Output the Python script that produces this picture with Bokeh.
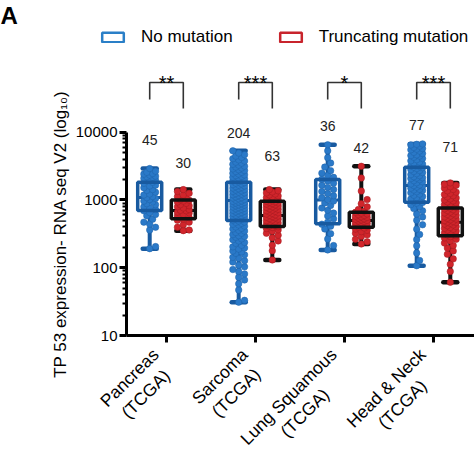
import math
import numpy as np
from bokeh.plotting import figure
from bokeh.models import (Range1d, FixedTicker, PrintfTickFormatter, LogAxis, LinearAxis,
                          Label, Legend, LegendItem)
from bokeh.embed import file_html
from bokeh.resources import INLINE

# ---------------- data ----------------
cancer_line1 = ["Pancreas", "Sarcoma", "Lung Squamous", "Head & Neck"]
cancer_line2 = ["(TCGA)", "(TCGA)", "(TCGA)", "(TCGA)"]
significance = ["**", "***", "*", "***"]
legend_labels = ["No mutation", "Truncating mutation"]
y_ticks = [10, 100, 1000, 10000]

no_mut_n = [45, 204, 36, 77]
trunc_n = [30, 63, 42, 71]

no_mut_min = [191, 31, 183, 107]
no_mut_q1 = [695, 495, 443, 922]
no_mut_med = [1081, 977, 1000, 1626]
no_mut_q3 = [1820, 1820, 1995, 3027]
no_mut_max = [2900, 5300, 6500, 6700]

trunc_min = [352, 130, 224, 61]
trunc_q1 = [525, 404, 394, 297]
trunc_med = [695, 587, 495, 467]
trunc_q3 = [1000, 955, 656, 762]
trunc_max = [1419, 1419, 3130, 1782]

pancreas_no_mut = [191, 205, 360, 395, 440, 470, 520, 585, 610, 650, 690, 720, 760, 790, 850,
                   880, 930, 960, 1010, 1050, 1080, 1120, 1180, 1220, 1300, 1380, 1420, 1510,
                   1600, 1650, 1760, 1820, 1900, 1950, 2010, 2080, 2150, 2200, 2240, 2320, 2400,
                   2450, 2550, 2650, 2900]
pancreas_trunc = [352, 360, 395, 430, 470, 500, 520, 545, 580, 610, 640, 660, 690, 700, 720,
                  760, 790, 820, 850, 890, 930, 960, 990, 1010, 1060, 1120, 1180, 1250, 1330, 1419]
sarcoma_no_mut = [31, 33, 47, 58, 66, 72, 81, 88, 94,
                  103, 109, 121, 127, 138, 142, 155, 163, 171, 176, 188, 196, 203, 214, 229, 236,
                  248, 259, 266, 281, 290, 297,
                  308, 322, 331, 347, 356, 372, 381, 399, 410, 426, 437, 451, 466, 472, 488,
                  503, 517, 529, 546, 551, 569, 583, 594, 611, 628, 633, 652, 667, 681, 699, 704,
                  726, 741, 753, 772, 786, 801, 819, 836, 847, 869, 882, 901, 918, 933, 951, 968,
                  992, 1013, 1041, 1066, 1082, 1109, 1138, 1162, 1191, 1214, 1243, 1272, 1296,
                  1334, 1361, 1398, 1422, 1463, 1497, 1532, 1571, 1608, 1647, 1683, 1722, 1768, 1801,
                  1853, 1902, 1948, 1993, 2051, 2104, 2162, 2218, 2283, 2341, 2409, 2477, 2552,
                  2621, 2704, 2781, 2866, 2953, 3048, 3141, 3246, 3352, 3478, 3602, 3741, 3890,
                  4052, 4231, 4420, 4650, 4902, 5300]
sarcoma_trunc = [130, 178, 215, 248, 276, 301, 322, 344, 361, 378, 392, 401, 410, 421, 433, 447,
                 458, 469, 481, 494, 506, 519, 531, 544, 556, 568, 579, 592, 604, 619, 633, 648,
                 662, 679, 694, 708, 726, 741, 758, 777, 793, 812, 829, 846, 866, 884, 903, 921,
                 942, 958, 975, 998, 1024, 1051, 1082, 1110, 1146, 1183, 1222, 1268, 1310, 1362, 1419]
lung_no_mut = [183, 212, 265, 318, 372, 410, 438, 470, 525, 580, 640, 705, 760, 830, 900, 960,
               1010, 1080, 1150, 1240, 1330, 1420, 1530, 1640, 1760, 1900, 2010, 2150, 2300, 2480,
               2700, 3050, 3500, 4200, 5300, 6500]
lung_trunc = [224, 241, 262, 288, 305, 322, 340, 356, 371, 385, 396, 405, 415, 424, 433, 442,
              452, 461, 470, 480, 489, 498, 507, 518, 528, 540, 552, 563, 575, 590, 606, 621, 638,
              655, 680, 720, 790, 880, 1010, 1350, 2100, 3130]
headneck_no_mut = [107, 128, 165, 210, 260, 310, 370, 430, 500, 560, 620, 690, 745, 800, 850,
                   895, 918, 940, 985, 1030, 1080, 1120, 1170, 1215, 1270, 1320, 1375, 1400, 1430,
                   1490, 1545, 1600, 1625, 1660, 1720, 1790, 1850, 1920, 1990, 2060, 2100, 2130,
                   2200, 2280, 2360, 2440, 2530, 2620, 2710, 2800, 2900, 2990, 3050, 3100, 3150,
                   3260, 3380, 3500, 3630, 3770, 3920, 4080, 4250, 4430, 4500, 4620, 4820, 5030,
                   5250, 5480, 5600, 5720, 5950, 6200, 6450, 6600, 6700]
headneck_trunc = [61, 88, 112, 135, 158, 176, 195, 213, 231, 248, 262, 275, 287, 296, 305, 316,
                  326, 337, 348, 358, 369, 381, 392, 404, 417, 428, 440, 452, 463, 470, 482, 495,
                  508, 521, 535, 549, 563, 578, 594, 610, 626, 643, 661, 679, 698, 718, 739, 758,
                  779, 802, 826, 851, 878, 905, 934, 965, 998, 1033, 1070, 1110, 1152, 1198, 1248,
                  1302, 1360, 1423, 1490, 1562, 1640, 1700, 1782]

no_mut_points = [pancreas_no_mut, sarcoma_no_mut, lung_no_mut, headneck_no_mut]
trunc_points = [pancreas_trunc, sarcoma_trunc, lung_trunc, headneck_trunc]

# ---------------- layout / style ----------------
FONT = "Liberation Sans"
W, H = 474, 449
AXIS_X_PX = 126      # canvas x of the y axis line
AXIS_Y_PX = 335      # canvas y of the x axis line
DEC_PX = 67.8        # pixels per decade
CAT_PX = 89.0        # pixels between categories
CAT1_PX = 166.0      # canvas x of first category
GROUP_OFF_PX = 16.8
BOX_HALF_PX = 12.0
CAP_HALF_PX = 7.0
SWARM_HALF_PX = 8.5
DOT_PX = 6.5
no_mut_label_dy = [29, 18, 19, 19]
trunc_label_dy = [27, 34, 18, 36]

BLUE = "#2a79c8"
BLUE_EDGE = "#1f62a8"
BLUE_BOX = "#185aa0"
RED = "#d0252b"
RED_EDGE = "#a31b21"
RED_BOX = "#111111"

x_start = 1 - CAT1_PX / CAT_PX
x_end = x_start + W / CAT_PX
y_start = 10 ** (1 - (H - AXIS_Y_PX) / DEC_PX)
y_end = 10 ** (1 + AXIS_Y_PX / DEC_PX)


def x_at(canvas_x):
    return x_start + canvas_x / CAT_PX


def y_at(canvas_y):
    return 10 ** (1 + (AXIS_Y_PX - canvas_y) / DEC_PX)


def shift(val, px_up):
    return 10 ** (math.log10(val) + px_up / DEC_PX)


def swarm(vals):
    ys = np.log10(np.asarray(vals, dtype=float)) * DEC_PX
    order = np.argsort(ys)
    cands = [0.0]
    step = DOT_PX * 0.45
    k = 1
    while k * step <= SWARM_HALF_PX + 1e-9:
        cands += [k * step, -k * step]
        k += 1
    px_l, py_l = [], []
    offs = np.zeros(len(vals))
    for i in order:
        y = ys[i]
        best, best_d = 0.0, -1.0
        for c in cands:
            d = min([math.hypot(c - a, y - b) for a, b in zip(px_l, py_l) if abs(b - y) < DOT_PX] or [1e9])
            if d >= DOT_PX * 0.85:
                best = c
                break
            if d > best_d:
                best_d, best = d, c
        offs[i] = best
        px_l.append(best)
        py_l.append(y)
    return offs


p = figure(width=W, height=H, y_axis_type="log",
           x_range=Range1d(x_start, x_end), y_range=Range1d(y_start, y_end),
           x_axis_location=None, y_axis_location=None,
           output_backend="svg", toolbar_location=None,
           min_border_left=0, min_border_right=0, min_border_top=0, min_border_bottom=0)
p.xgrid.visible = False
p.ygrid.visible = False
p.outline_line_color = None
p.background_fill_color = "white"
p.border_fill_color = "white"

# y axis (log), fixed at the left edge of the plotting area
minor = [m * 10 ** e for e in range(1, 4) for m in range(2, 10)]
yax = LogAxis(fixed_location=x_at(AXIS_X_PX), bounds=(10, 10000),
              ticker=FixedTicker(ticks=y_ticks, minor_ticks=minor),
              formatter=PrintfTickFormatter(format="%d"))
yax.axis_line_width = 3
yax.axis_line_color = "black"
yax.major_tick_line_width = 3
yax.major_tick_out = 7
yax.major_tick_in = 0
yax.minor_tick_line_width = 2
yax.minor_tick_out = 4
yax.minor_tick_in = 0
yax.major_label_text_font = FONT
yax.major_label_text_font_size = "15px"
yax.major_label_text_color = "black"
yax.major_label_standoff = 2
yax.axis_label = "TP 53 expression- RNA seq V2 (log\u2081\u2080)"
yax.axis_label_text_font = FONT
yax.axis_label_text_font_size = "17px"
yax.axis_label_text_font_style = "normal"
yax.axis_label_text_color = "black"
yax.axis_label_standoff = 3
p.add_layout(yax, "left")

# x axis
xax = LinearAxis(fixed_location=10, bounds=(x_at(AXIS_X_PX), x_end),
                 ticker=FixedTicker(ticks=[1, 2, 3, 4], minor_ticks=[]))
xax.major_label_overrides = {1: "", 2: "", 3: "", 4: ""}
xax.axis_line_width = 3
xax.axis_line_color = "black"
xax.major_tick_line_width = 3
xax.major_tick_out = 7
xax.major_tick_in = 0
p.add_layout(xax, "below")

goff = GROUP_OFF_PX / CAT_PX
bh = BOX_HALF_PX / CAT_PX
ch = CAP_HALF_PX / CAT_PX

sets = [
    (-goff, no_mut_min, no_mut_q1, no_mut_med, no_mut_q3, no_mut_max, no_mut_points, no_mut_n,
     no_mut_label_dy, BLUE, BLUE_EDGE, BLUE_BOX),
    (goff, trunc_min, trunc_q1, trunc_med, trunc_q3, trunc_max, trunc_points, trunc_n,
     trunc_label_dy, RED, RED_EDGE, RED_BOX),
]

for off, mn, q1, md, q3, mx, pts, ns, dys, col, edge, boxc in sets:
    cx = [i + 1 + off for i in range(4)]
    p.quad(left=[c - bh for c in cx], right=[c + bh for c in cx], bottom=q1, top=q3,
           fill_color="white", line_color=None)
    p.segment(x0=cx, x1=cx, y0=mn, y1=q1, line_color=boxc, line_width=4)
    p.segment(x0=cx, x1=cx, y0=q3, y1=mx, line_color=boxc, line_width=4)
    p.segment(x0=[c - ch for c in cx], x1=[c + ch for c in cx], y0=mn, y1=mn,
              line_color=boxc, line_width=4.5, line_cap="round")
    p.segment(x0=[c - ch for c in cx], x1=[c + ch for c in cx], y0=mx, y1=mx,
              line_color=boxc, line_width=4.5, line_cap="round")
    p.segment(x0=[c - bh for c in cx], x1=[c + bh for c in cx], y0=md, y1=md,
              line_color=boxc, line_width=3)

for off, mn, q1, md, q3, mx, pts, ns, dys, col, edge, boxc in sets:
    xs, ys = [], []
    for i, vals in enumerate(pts):
        o = swarm(vals)
        xs += list(i + 1 + off + o / CAT_PX)
        ys += list(vals)
    p.scatter(x=xs, y=ys, size=DOT_PX, fill_color=col, line_color=edge, line_width=0.5)
    cx = [i + 1 + off for i in range(4)]
    p.quad(left=[c - bh for c in cx], right=[c + bh for c in cx], bottom=q1, top=q3,
           fill_color=None, line_color=boxc, line_width=3.5)
    p.text(x=cx, y=[shift(m, d) for m, d in zip(mx, dys)],
           text=[str(n) for n in ns], text_font={"value": FONT}, text_font_size="14px",
           text_align="center", text_baseline="middle", text_color="#222222")

# significance brackets
for i, s in enumerate(significance):
    xl, xr = i + 1 - goff, i + 1 + goff
    p.line(x=[xl, xl, xr, xr], y=[y_at(99), y_at(82), y_at(82), y_at(108)],
           line_color="#333333", line_width=1.6)
    p.text(x=[i + 1], y=[y_at(82)], text=[s], text_font={"value": FONT},
           text_font_size="20px", text_align="center", text_baseline="alphabetic",
           text_color="black")

# category labels (two lines, rotated 45 degrees, block anchored at its top-right corner)
has_anchor = "anchor" in Label.properties()
for i in range(4):
    ax = x_at(CAT1_PX + i * CAT_PX - 18)
    ay = y_at(AXIS_Y_PX + 9)
    kw = dict(x=ax, y=ay, text=cancer_line1[i] + "\n" + cancer_line2[i], angle=math.pi / 4,
              text_font=FONT, text_font_size="17.5px", text_color="black", text_line_height=1.15)
    if has_anchor:
        kw.update(anchor="top_right", text_align="center", text_baseline="top")
    else:
        kw.update(text_align="right", text_baseline="top")
    p.add_layout(Label(**kw))

# panel letter
p.add_layout(Label(x=x_at(0), y=y_at(1), text="A", text_font=FONT, text_font_size="24px",
                   text_font_style="bold", text_align="left", text_baseline="top",
                   text_color="black"))

# legend (its glyph renderers hold one point outside the visible range)
off_x = [x_start - 2]
off_y = [y_start / 100]
r_blue = p.quad(left=off_x, right=off_x, top=off_y, bottom=off_y, fill_color="white",
                line_color="#2a7fc7", line_width=2.5)
r_red = p.quad(left=off_x, right=off_x, top=off_y, bottom=off_y, fill_color="white",
               line_color="#c8242c", line_width=2.5)
legend = Legend(items=[LegendItem(label=legend_labels[0], renderers=[r_blue]),
                       LegendItem(label=legend_labels[1], renderers=[r_red])],
                orientation="horizontal", location=(99, 402), glyph_width=27, glyph_height=12,
                label_standoff=15, spacing=44, padding=0, margin=0,
                border_line_color=None, background_fill_alpha=0,
                label_text_font=FONT, label_text_font_size="17px", label_text_color="black")
p.add_layout(legend)

open("out.html", "w").write(file_html(p, INLINE))
